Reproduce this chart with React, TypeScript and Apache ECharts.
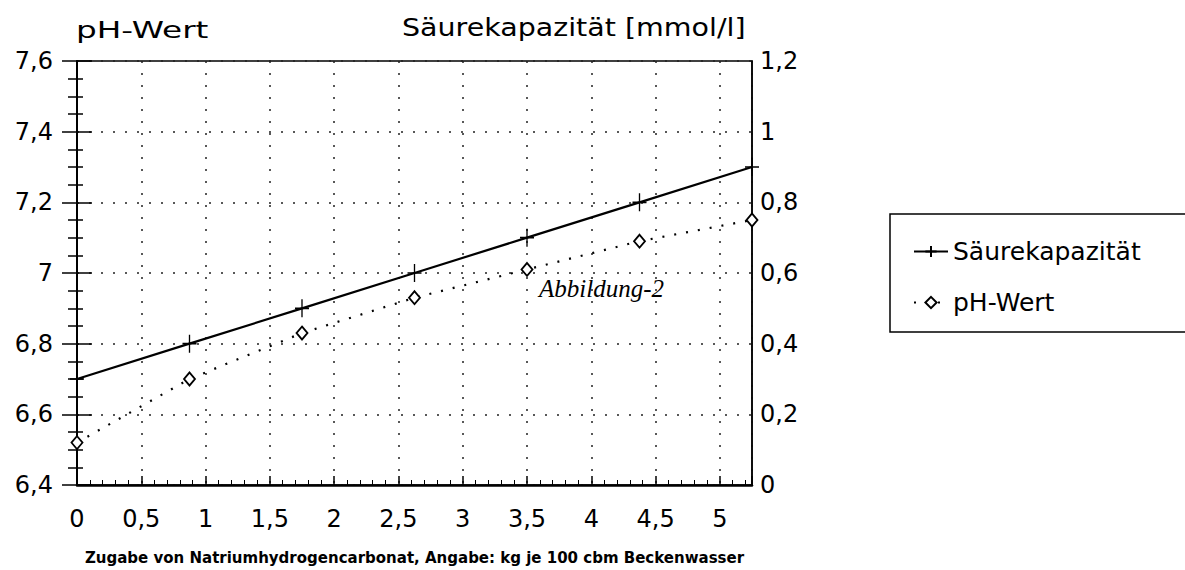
import React, { useEffect, useRef } from "react";
import * as echarts from "echarts";

// Data
const dosage = [0, 0.875, 1.75, 2.625, 3.5, 4.375, 5.25]; // kg je 100 cbm
const saeurekapazitaet = [0.3, 0.4, 0.5, 0.6, 0.7, 0.8, 0.9]; // mmol/l
const phWert = [6.52, 6.7, 6.83, 6.93, 7.01, 7.09, 7.15];
const seriesNames = ["Säurekapazität", "pH-Wert"];
const leftTitle = "pH-Wert";
const rightTitle = "Säurekapazität [mmol/l]";
const xTitle = "Zugabe von Natriumhydrogencarbonat, Angabe: kg je 100 cbm Beckenwasser";
const note = "Abbildung-2";

const FONT = '"DejaVu Sans", sans-serif';
const comma = (v: number) => String(Math.round(v * 100) / 100).replace(".", ",");

export default function App() {
  const ref = useRef<HTMLDivElement>(null);
  useEffect(() => {
    document.body.style.margin = "0";
    const chart = echarts.init(ref.current!, null, { renderer: "svg" });
    const gridDots = { color: "#222", width: 1.5, type: [2, 10] as any };
    chart.setOption({
      animation: false,
      backgroundColor: "#fff",
      grid: {
        left: 77,
        right: 433,
        top: 61,
        bottom: 78,
        show: true,
        borderColor: "#000",
        borderWidth: 1.5,
      },
      xAxis: {
        type: "value",
        min: 0,
        max: 5.25,
        interval: 0.5,
        axisLine: { show: true, lineStyle: { color: "#000", width: 2.5 } },
        axisTick: { show: true, inside: true, length: 9, lineStyle: { color: "#000", width: 1.5 } },
        minorTick: { show: true, splitNumber: 5, length: 5, lineStyle: { color: "#000", width: 1 } },
        axisLabel: {
          margin: 22,
          fontFamily: FONT,
          fontSize: 24,
          color: "#000",
          showMaxLabel: false,
          formatter: (v: number) => (Math.abs(v * 2 - Math.round(v * 2)) < 1e-6 ? comma(v) : ""),
        },
        splitLine: { show: true, lineStyle: gridDots },
        name: xTitle,
        nameLocation: "middle",
        nameGap: 65,
        nameTextStyle: { fontFamily: FONT, fontSize: 15, fontWeight: "bold", color: "#000" },
      },
      yAxis: [
        {
          type: "value",
          position: "left",
          min: 6.4,
          max: 7.6,
          interval: 0.2,
          axisLine: { show: true, lineStyle: { color: "#000", width: 2 } },
          axisTick: { show: true, length: 15, lineStyle: { color: "#000", width: 1.5 } },
          minorTick: { show: true, splitNumber: 4, length: 9, lineStyle: { color: "#000", width: 1.5 } },
          axisLabel: { margin: 24, fontFamily: FONT, fontSize: 24, color: "#000", formatter: comma },
          splitLine: { show: true, lineStyle: gridDots },
        },
        {
          type: "value",
          position: "right",
          min: 0,
          max: 1.2,
          interval: 0.2,
          axisLine: { show: true, lineStyle: { color: "#000", width: 1.5 } },
          axisTick: { show: false },
          axisLabel: { margin: 8, fontFamily: FONT, fontSize: 24, color: "#000", formatter: comma },
          splitLine: { show: false },
        },
        {
          type: "value",
          position: "left",
          min: 6.4,
          max: 7.6,
          interval: 0.2,
          axisLine: { show: false },
          axisTick: { show: true, inside: true, length: 15, lineStyle: { color: "#000", width: 1.5 } },
          minorTick: { show: true, splitNumber: 4, length: 6, lineStyle: { color: "#000", width: 1.5 } },
          axisLabel: { show: false },
          splitLine: { show: false },
        },
      ],
      legend: {
        orient: "vertical",
        left: 908,
        top: 234,
        itemWidth: 34,
        itemHeight: 14,
        itemGap: 26,
        textStyle: { fontFamily: FONT, fontSize: 25, color: "#000" },
        data: seriesNames,
      },
      graphic: [
        {
          type: "rect",
          shape: { x: 890, y: 214, width: 320, height: 118 },
          style: { fill: "none", stroke: "#000", lineWidth: 1.5 },
          z: 1,
        },
        {
          type: "text",
          x: 76,
          y: 30,
          scaleX: 1.42,
          style: { text: leftTitle, fontFamily: FONT, fontSize: 23, fill: "#000", align: "left", verticalAlign: "middle" },
        },
        {
          type: "text",
          x: 402,
          y: 27,
          scaleX: 1.14,
          style: { text: rightTitle, fontFamily: FONT, fontSize: 25, fill: "#000", align: "left", verticalAlign: "middle" },
        },
        {
          type: "text",
          x: 539,
          y: 288,
          style: {
            text: note,
            fontFamily: '"Liberation Serif", serif',
            fontStyle: "italic",
            fontSize: 25,
            fill: "#000",
            align: "left",
            verticalAlign: "middle",
          },
        },
      ],
      series: [
        {
          name: seriesNames[0],
          type: "line",
          yAxisIndex: 1,
          data: dosage.map((x, i) => [x, saeurekapazitaet[i]]),
          symbol: "path://M5,0L5,10M0,5L10,5",
          symbolSize: [14, 18],
          showSymbol: true,
          itemStyle: { color: "#000", borderColor: "#000", borderWidth: 1.5 },
          lineStyle: { color: "#000", width: 2.2, type: "solid" },
          z: 5,
        },
        {
          name: seriesNames[1],
          type: "line",
          yAxisIndex: 0,
          data: dosage.map((x, i) => [x, phWert[i]]),
          symbol: "diamond",
          symbolSize: [11, 13],
          showSymbol: true,
          itemStyle: { color: "#fff", borderColor: "#000", borderWidth: 1.8 },
          lineStyle: { color: "#000", width: 2.2, type: [2, 10] },
          z: 5,
        },
      ],
    });
    return () => chart.dispose();
  }, []);
  return <div ref={ref} style={{ width: 1185, height: 570 }} />;
}
